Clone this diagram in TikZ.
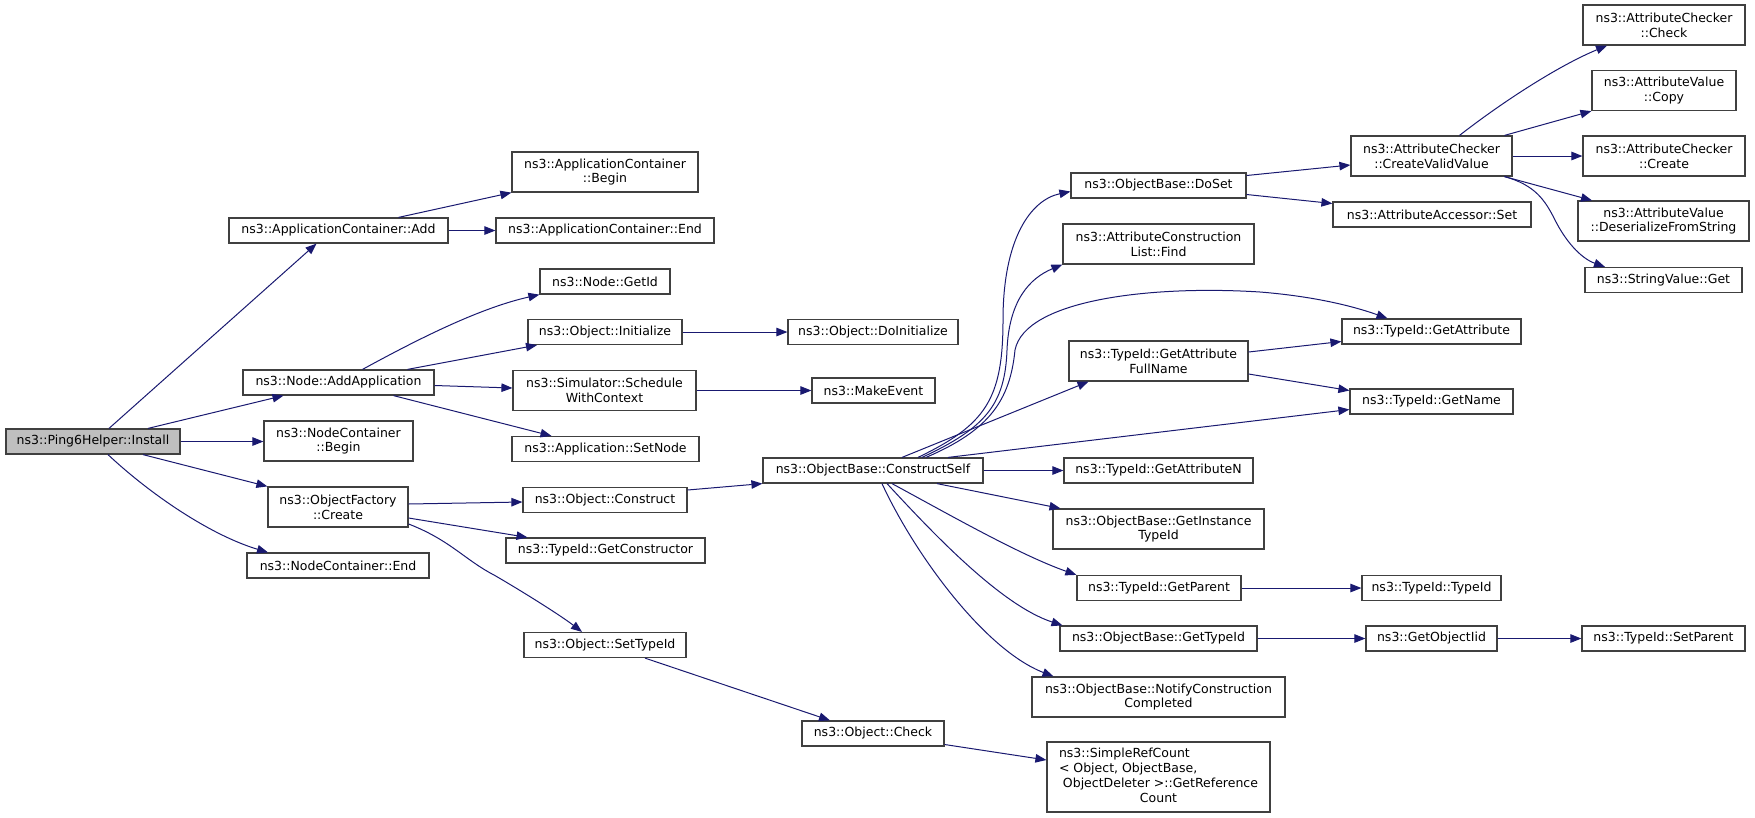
\documentclass[tikz,border=0pt]{standalone}
\usepackage{fontspec}
\setmainfont{DejaVu Sans}
\usetikzlibrary{arrows.meta}
\definecolor{edgeblue}{HTML}{191970}
\definecolor{boxline}{HTML}{404040}
\definecolor{rootfill}{HTML}{BFBFBF}
\tikzset{
  fnbox/.style={draw=boxline, line width=1.2pt, fill=white, inner sep=0pt, align=center,
    minimum height=25pt, font=\fontsize{12.5}{14.8}\selectfont},
  twoline/.style={minimum height=40pt},
  callarrow/.style={draw=edgeblue, line width=1pt, -{Triangle[length=11pt,width=8.5pt]}}
}
\begin{document}
\begin{tikzpicture}[x=1pt,y=-1pt]
\useasboundingbox (0,0) rectangle (1755,817);
% column 1 and 2
\node[fnbox, fill=rootfill, minimum width=174pt] (install) at (93,441.5) {ns3::Ping6Helper::Install};
\node[fnbox, minimum width=219pt] (appadd) at (338.5,230.5) {ns3::ApplicationContainer::Add};
\node[fnbox, minimum width=191pt] (addapp) at (338.5,382.5) {ns3::Node::AddApplication};
\node[fnbox, twoline, minimum width=149pt] (ncbegin) at (338.5,441) {ns3::NodeContainer\\::Begin};
\node[fnbox, twoline, minimum width=140pt] (ofcreate) at (338,507) {ns3::ObjectFactory\\::Create};
\node[fnbox, minimum width=182pt] (ncend) at (338,565.5) {ns3::NodeContainer::End};
% column 3
\node[fnbox, twoline, minimum width=186pt] (acbegin) at (605,172) {ns3::ApplicationContainer\\::Begin};
\node[fnbox, minimum width=218pt] (acend) at (605,230.5) {ns3::ApplicationContainer::End};
\node[fnbox, minimum width=130pt] (getid) at (605,281.5) {ns3::Node::GetId};
\node[fnbox, minimum width=154pt] (objinit) at (605,332) {ns3::Object::Initialize};
\node[fnbox, twoline, minimum width=183pt] (schedule) at (604.5,390.5) {ns3::Simulator::Schedule\\WithContext};
\node[fnbox, minimum width=187pt] (setnode) at (605.5,449) {ns3::Application::SetNode};
\node[fnbox, minimum width=164pt] (objconstruct) at (605,500) {ns3::Object::Construct};
\node[fnbox, minimum width=199pt] (getctor) at (605.5,550.5) {ns3::TypeId::GetConstructor};
\node[fnbox, minimum width=162pt] (settypeid) at (605,645) {ns3::Object::SetTypeId};
% column 4
\node[fnbox, minimum width=170pt] (doinit) at (873,332) {ns3::Object::DoInitialize};
\node[fnbox, minimum width=123pt] (makeevent) at (873.5,390.5) {ns3::MakeEvent};
\node[fnbox, minimum width=220pt] (constructself) at (873,470.5) {ns3::ObjectBase::ConstructSelf};
\node[fnbox, minimum width=142pt] (objcheck) at (873,733.5) {ns3::Object::Check};
% column 5
\node[fnbox, minimum width=175pt] (doset) at (1158.5,185.5) {ns3::ObjectBase::DoSet};
\node[fnbox, twoline, minimum width=191pt] (attrfind) at (1158.5,244) {ns3::AttributeConstruction\\List::Find};
\node[fnbox, twoline, minimum width=179pt] (fullname) at (1158.5,361) {ns3::TypeId::GetAttribute\\FullName};
\node[fnbox, minimum width=189pt] (getattrn) at (1158.5,470.5) {ns3::TypeId::GetAttributeN};
\node[fnbox, twoline, minimum width=211pt] (insttypeid) at (1158.5,529) {ns3::ObjectBase::GetInstance\\TypeId};
\node[fnbox, minimum width=164pt] (getparent) at (1159,588) {ns3::TypeId::GetParent};
\node[fnbox, minimum width=197pt] (gettypeid) at (1158.5,638.5) {ns3::ObjectBase::GetTypeId};
\node[fnbox, twoline, minimum width=253pt] (notify) at (1158.5,697) {ns3::ObjectBase::NotifyConstruction\\Completed};
\node[fnbox, minimum width=223pt, minimum height=70pt] (refcount) at (1158.5,777)
  {\begin{tabular}{@{}l@{}}ns3::SimpleRefCount\\< Object, ObjectBase,\\\ ObjectDeleter >::GetReference\\\multicolumn{1}{@{}c@{}}{Count}\end{tabular}};
% column 6
\node[fnbox, twoline, minimum width=161pt] (validvalue) at (1431.5,156) {ns3::AttributeChecker\\::CreateValidValue};
\node[fnbox, minimum width=198pt] (accessorset) at (1432,214.5) {ns3::AttributeAccessor::Set};
\node[fnbox, minimum width=179pt] (getattr) at (1431.5,331.5) {ns3::TypeId::GetAttribute};
\node[fnbox, minimum width=163pt] (getname) at (1431.5,401.5) {ns3::TypeId::GetName};
\node[fnbox, minimum width=139pt] (typeidctor) at (1431.5,588) {ns3::TypeId::TypeId};
\node[fnbox, minimum width=131pt] (objiid) at (1431.5,638.5) {ns3::GetObjectIid};
% column 7
\node[fnbox, twoline, minimum width=162pt] (checkercheck) at (1664,25) {ns3::AttributeChecker\\::Check};
\node[fnbox, twoline, minimum width=144pt] (valuecopy) at (1664,90.5) {ns3::AttributeValue\\::Copy};
\node[fnbox, twoline, minimum width=162pt] (checkercreate) at (1664,156) {ns3::AttributeChecker\\::Create};
\node[fnbox, twoline, minimum width=171pt] (deserialize) at (1663.5,221) {ns3::AttributeValue\\::DeserializeFromString};
\node[fnbox, minimum width=157pt] (stringget) at (1663.5,280) {ns3::StringValue::Get};
\node[fnbox, minimum width=163pt] (setparent) at (1663.5,638.5) {ns3::TypeId::SetParent};
% calls from Install
\draw[callarrow] ([xshift=16pt]install.north) -- ([xshift=-22pt]appadd.south);
\draw[callarrow] ([xshift=55pt]install.north) -- ([xshift=-55pt]addapp.south);
\draw[callarrow] (install.east) -- (install.east -| ncbegin.west);
\draw[callarrow] ([xshift=50pt]install.south) -- (ofcreate.north west);
\draw[callarrow] ([xshift=15pt]install.south) .. controls (150,494) and (210,535) .. ([xshift=-70pt]ncend.north);
% second level
\draw[callarrow] ([xshift=60pt]appadd.north) -- (acbegin.south west);
\draw[callarrow] (appadd.east) -- (acend.west);
\draw[callarrow] ([xshift=24pt]addapp.north) .. controls (420,338) and (480,308) .. (getid.south west);
\draw[callarrow] ([xshift=69pt]addapp.north) -- ([xshift=-68pt]objinit.south);
\draw[callarrow] ([yshift=-3pt]addapp.east) -- ([yshift=2.5pt]schedule.west);
\draw[callarrow] ([xshift=55pt]addapp.south) -- ([xshift=-54pt]setnode.north);
\draw[callarrow] ([yshift=3pt]ofcreate.east) -- ([yshift=-2pt]objconstruct.west);
\draw[callarrow] ([yshift=-11pt]ofcreate.east) -- ([xshift=-78pt]getctor.north);
\draw[callarrow] ([yshift=-17pt]ofcreate.east) .. controls (450,540) and (465,560) .. (494,575)
  .. controls (520,590) and (560,615) .. ([xshift=-23pt]settypeid.north);
% third level
\draw[callarrow] (objinit.east) -- (doinit.west);
\draw[callarrow] (schedule.east) -- (makeevent.west);
\draw[callarrow] ([yshift=10pt]objconstruct.east) -- (constructself.south west);
\draw[callarrow] ([xshift=40pt]settypeid.south) -- ([xshift=-43pt]objcheck.north);
\draw[callarrow] ([yshift=-11pt]objcheck.east) -- ([yshift=17pt]refcount.west);
% calls from ConstructSelf
\draw[callarrow] ([xshift=45pt]constructself.north) .. controls (985,425) and (1003,400) .. (1003,320)
  .. controls (1003,240) and (1030,200) .. ([yshift=-6pt]doset.west);
\draw[callarrow] ([xshift=49pt]constructself.north) .. controls (985,428) and (1005,405) .. (1007,350)
  .. controls (1009,300) and (1030,278) .. (attrfind.south west);
\draw[callarrow] ([xshift=53pt]constructself.north) .. controls (990,430) and (1010,400) .. (1015,350)
  .. controls (1025,300) and (1150,285) .. (1260,292)
  .. controls (1310,296) and (1350,305) .. ([xshift=-44pt]getattr.north);
\draw[callarrow] ([xshift=29pt]constructself.north) -- ([xshift=-70pt]fullname.south);
\draw[callarrow] ([xshift=75pt]constructself.north) -- ([yshift=-8pt]getname.west);
\draw[callarrow] (constructself.east) -- (getattrn.west);
\draw[callarrow] ([xshift=64pt]constructself.south) -- ([xshift=-98pt]insttypeid.north);
\draw[callarrow] ([xshift=19pt]constructself.south) .. controls (950,515) and (1020,555) .. (getparent.north west);
\draw[callarrow] ([xshift=14pt]constructself.south) .. controls (930,530) and (1000,605) .. ([xshift=-96pt]gettypeid.north);
\draw[callarrow] ([xshift=9pt]constructself.south) .. controls (915,555) and (985,650) .. ([xshift=-105pt]notify.north);
% fifth and sixth level
\draw[callarrow] ([yshift=10pt]doset.east) -- ([yshift=-9pt]validvalue.west);
\draw[callarrow] ([yshift=-9pt]doset.east) -- ([yshift=11pt]accessorset.west);
\draw[callarrow] ([yshift=9pt]fullname.east) -- ([yshift=-10pt]getattr.west);
\draw[callarrow] ([yshift=-13pt]fullname.east) -- ([yshift=11pt]getname.west);
\draw[callarrow] (getparent.east) -- (getparent.east -| typeidctor.west);
\draw[callarrow] (gettypeid.east) -- (objiid.west);
\draw[callarrow] (objiid.east) -- (setparent.west);
\draw[callarrow] ([xshift=28pt]validvalue.north) .. controls (1505,100) and (1560,65) .. ([xshift=-57pt]checkercheck.south);
\draw[callarrow] ([xshift=73pt]validvalue.north) -- (valuecopy.south west);
\draw[callarrow] (validvalue.east) -- (checkercreate.west);
\draw[callarrow] ([xshift=73pt]validvalue.south) -- ([xshift=-71.5pt]deserialize.north);
\draw[callarrow] ([xshift=73pt]validvalue.south) .. controls (1535,185) and (1545,200) .. (1555,220)
  .. controls (1565,240) and (1580,258) .. ([xshift=-58.5pt]stringget.north);
\end{tikzpicture}
\end{document}
